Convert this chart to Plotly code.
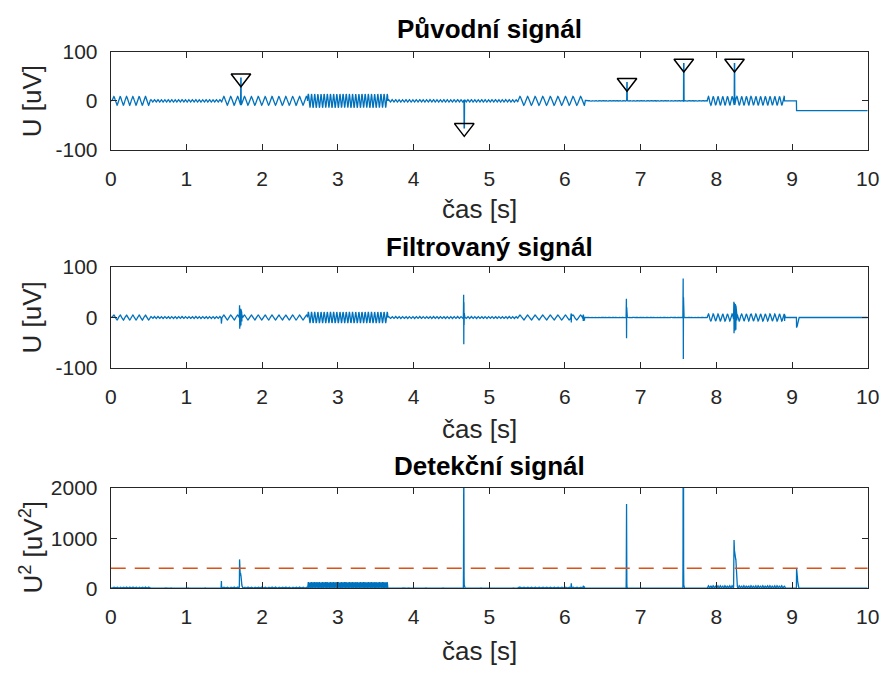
import numpy as np
import plotly.graph_objects as go

# ---------------- data ----------------
fs = 500            # samples per second
duration = 10.0     # seconds

# oscillatory segments (start s, end s, frequency Hz, amplitude raw / filtered uV)
seg_start = [0.02, 0.52, 1.47, 2.60, 3.66, 5.38, 6.26, 7.88]
seg_end = [0.52, 1.47, 2.60, 3.66, 5.38, 6.26, 7.88, 8.90]
seg_freq = [12, 22, 11, 24, 22, 10, 22, 16]
seg_amp_raw = [9, 2.5, 9, 14, 2.5, 9, 0.8, 9]
seg_amp_filt = [5, 2.0, 5, 11, 2.0, 5, 0.5, 7]

# DC step in the raw signal
step_time = 9.06
step_level = -20

# detected peaks in the raw signal
peak_time = [1.72, 4.67, 6.82, 7.57, 8.24]
peak_value = [46, -55, 37, 76, 76]

# transient events in the filtered signal (consecutive samples)
filt_event_time = [1.46, 1.70, 4.66, 6.08, 6.24, 6.81, 7.56, 8.23, 8.90, 9.06]
filt_event_vals = [
    [-6, -12, -6],
    [12, 24, -22, 17, -18, 17, -17, 17, -17, 16, -16, 15, -15, 14, -12, 10, -8, 5],
    [20, 45, -53, 30, -15, 8],
    [5, 8, -10, 7, -5, 3],
    [5, -7, 6, -4],
    [15, 37, -41, 20, -10, 5],
    [30, 77, -82, 40, -20, 8],
    [20, 31, -31, 28, -28, 27, -27, 26, -26, 26, -26, 25, -25, 24, -24, 22, -20, 18, -14, 10, -6],
    [6, -7, 5],
    [-20, -19.5, -19, -18, -17, -16, -14, -12, -10, -8, -6, -4, -2],
]

threshold = 400

x_ticks = list(range(0, 11))
y_ticks_u = [-100, 0, 100]
y_ticks_u_text = ["-100", "0", "100"]
y_ticks_d = [0, 1000, 2000]
y_ticks_d_text = ["0", "1000", "2000"]

titles = ["Původní signál", "Filtrovaný signál", "Detekční signál"]
xlabel = "čas [s]"
ylabels = ["U [uV]", "U [uV]", "U<sup>2</sup> [uV<sup>2</sup>]"]

# ---------------- build the signals ----------------
t = np.linspace(0, duration, int(duration * fs) + 1)
raw = np.zeros_like(t)
filt = np.zeros_like(t)
for s, e, f, ar, af in zip(seg_start, seg_end, seg_freq, seg_amp_raw, seg_amp_filt):
    m = (t >= s) & (t < e)
    ph = np.sin(2 * np.pi * f * (t[m] - s))
    raw[m] = ar * ph
    filt[m] = af * ph
raw[t >= step_time] = step_level
for pt, pv in zip(peak_time, peak_value):
    i = int(round(pt * fs))
    raw[i - 1:i + 2] = pv
for et, vals in zip(filt_event_time, filt_event_vals):
    i0 = int(round(et * fs))
    filt[i0:i0 + len(vals)] = vals
det = filt ** 2

BLUE = "#0072BD"
ORANGE = "#D95319"
AX = "#262626"
FONT = "Liberation Sans, Arial, sans-serif"

fig = go.Figure()
fig.add_trace(go.Scatter(x=t, y=raw, mode="lines", line=dict(color=BLUE, width=1.3),
                         xaxis="x", yaxis="y", showlegend=False))
fig.add_trace(go.Scatter(x=peak_time, y=peak_value, mode="markers",
                         marker=dict(symbol="triangle-down-open", size=17, color="#000000",
                                     line=dict(width=1.5, color="#000000")),
                         xaxis="x", yaxis="y", showlegend=False))
fig.add_trace(go.Scatter(x=t, y=filt, mode="lines", line=dict(color=BLUE, width=1.3),
                         xaxis="x2", yaxis="y2", showlegend=False))
fig.add_trace(go.Scatter(x=t, y=det, mode="lines", line=dict(color=BLUE, width=1.3),
                         xaxis="x3", yaxis="y3", showlegend=False))
fig.add_trace(go.Scatter(x=[0, duration], y=[threshold, threshold], mode="lines",
                         line=dict(color=ORANGE, width=1.5, dash="15px,9px"),
                         xaxis="x3", yaxis="y3", showlegend=False))

W, H = 888, 673
# the photographed page maps figure pixels as: image = offset + scale * figure
SX, OX = 0.9823, 7.0
SY, OY = 0.974, 7.9


def px(x):
    return ((x - OX) / SX) / W


def py(y):
    return 1 - ((y - OY) / SY) / H


xd = [px(112), px(871)]
ydoms = [[py(147), py(48)], [py(367), py(265)], [py(589), py(488)]]

common = dict(showline=True, linecolor=AX, linewidth=1, mirror="ticks", ticks="inside",
              ticklen=6, tickcolor=AX, tickwidth=1, showgrid=False, zeroline=False,
              tickfont=dict(family=FONT, size=21, color=AX))

layout = dict(width=W, height=H, margin=dict(l=0, r=0, t=0, b=0),
              paper_bgcolor="white", plot_bgcolor="white", showlegend=False)
for k in range(3):
    sx = "" if k == 0 else str(k + 1)
    layout["xaxis" + sx] = dict(common, domain=xd, range=[0, duration], tickvals=x_ticks,
                                anchor="y" + sx, ticklabelstandoff=10,
                                ticklabeloverflow="allow")
    if k < 2:
        yv, yt, yr = y_ticks_u, y_ticks_u_text, [-100, 100]
    else:
        yv, yt, yr = y_ticks_d, y_ticks_d_text, [0, 2000]
    layout["yaxis" + sx] = dict(common, domain=ydoms[k], range=yr, tickvals=yv, ticktext=yt,
                                anchor="x" + sx, ticklabelstandoff=8)
fig.update_layout(**layout)

title_y = [25, 245, 466]
xlabel_y = [207, 428, None]
ylabel_y = [98, 316, 547]
for k in range(3):
    fig.add_annotation(text="<b>" + titles[k] + "</b>", xref="paper", yref="paper",
                       x=px(491.5), y=py(title_y[k]), showarrow=False,
                       xanchor="center", yanchor="middle",
                       font=dict(family=FONT, size=26, color="#000000"))
    if xlabel_y[k] is not None:
        fig.add_annotation(text=xlabel, xref="paper", yref="paper",
                           x=px(482), y=py(xlabel_y[k]), showarrow=False,
                           xanchor="center", yanchor="middle",
                           font=dict(family=FONT, size=26, color=AX))
    else:
        fig.add_annotation(text=xlabel, xref="paper", yref="paper",
                           x=px(482), y=0, showarrow=False, borderpad=0, yshift=-5,
                           xanchor="center", yanchor="bottom",
                           font=dict(family=FONT, size=26, color=AX))
    fig.add_annotation(text=ylabels[k], xref="paper", yref="paper",
                       x=px(33), y=py(ylabel_y[k]), showarrow=False, textangle=-90,
                       xanchor="center", yanchor="middle",
                       font=dict(family=FONT, size=26, color=AX))

fig.write_html("out.html")
